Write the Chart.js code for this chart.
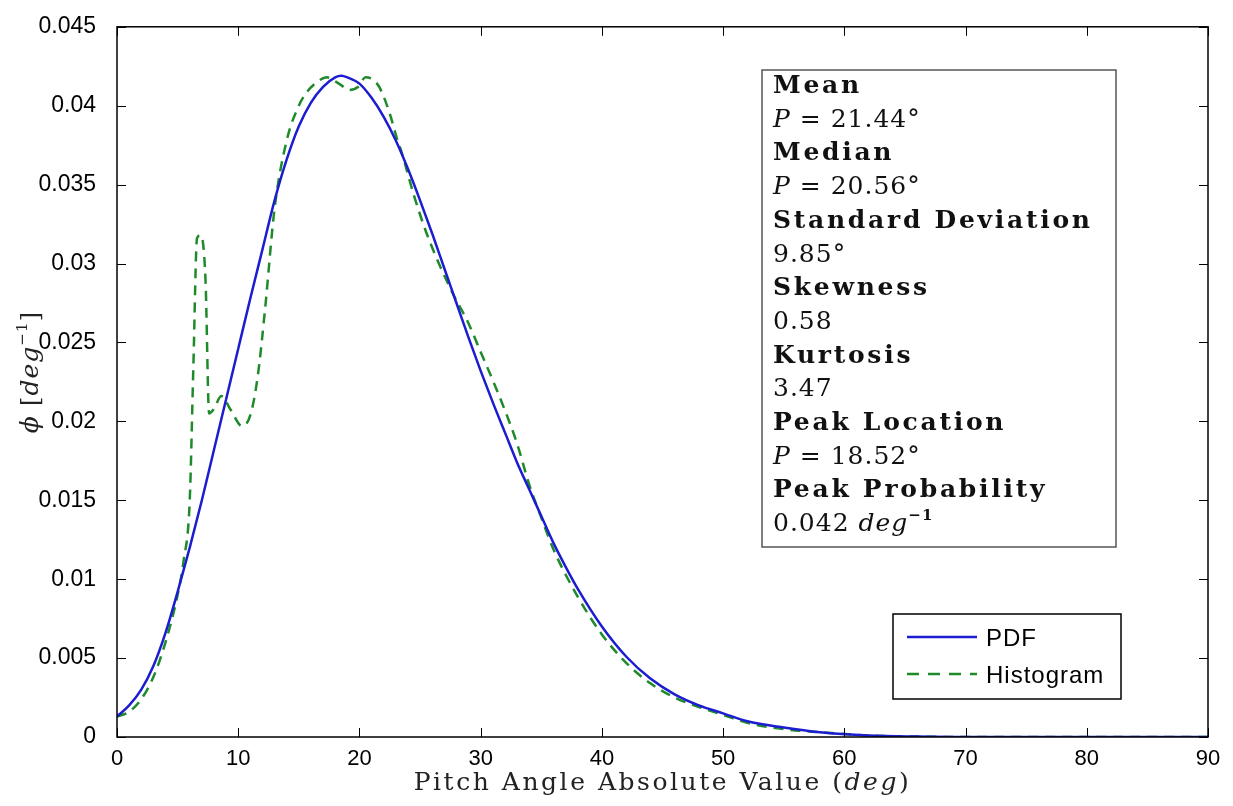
<!DOCTYPE html>
<html>
<head>
<meta charset="utf-8">
<script src="https://cdn.jsdelivr.net/npm/chart.js@4/dist/chart.umd.min.js"></script>
<style>
  html, body { margin: 0; padding: 0; background: #fff; }
  #wrap { width: 1233px; height: 806px; }
</style>
</head>
<body>
<div id="wrap"><canvas id="chart"></canvas></div>
<script>
// fitted PDF curve
const pdfX = [0, 1, 2, 3, 4, 5, 6, 7, 8, 9, 10, 11, 12, 13, 14, 15, 16, 17, 18, 18.5, 19, 20, 21, 22, 23, 24, 25, 26, 27, 28, 29, 30, 31, 32, 33, 34, 35, 36, 37, 38, 40, 42, 44, 46, 48, 50, 52, 55, 58, 62, 66, 70, 80, 90];
const pdfY = [0.0013, 0.0020, 0.0030, 0.0045, 0.0066, 0.0092, 0.0120, 0.0150, 0.0182, 0.0214, 0.0246, 0.0278, 0.0309, 0.0340, 0.0366, 0.0387, 0.0402, 0.0412, 0.0418, 0.0419, 0.0418, 0.0414, 0.0405, 0.0393, 0.0378, 0.0360, 0.0340, 0.0319, 0.0297, 0.0275, 0.0253, 0.0232, 0.0212, 0.0193, 0.0174, 0.0157, 0.0140, 0.0123, 0.0108, 0.0094, 0.0070, 0.0051, 0.0037, 0.0027, 0.0020, 0.0015, 0.0010, 0.0006, 0.0003, 0.0001, 0.00003, 0, 0, 0];

// histogram (smoothed), dashed
const histX = [0, 1, 2, 3, 4, 5, 5.5, 6, 6.3, 6.6, 6.9, 7.3, 7.6, 8, 8.6, 9.4, 10.3, 11, 11.6, 12.2, 13, 14, 15, 15.7, 16.5, 17.3, 18.3, 19.2, 19.9, 20.5, 21.2, 21.7, 22.5, 23.1, 23.5, 24.5, 25.5, 26.5, 27.7, 29, 30, 31, 32, 33, 34, 35, 36, 38, 40, 42, 44, 46, 48, 50, 52, 55, 58, 62, 66, 70, 80, 90];
const histY = [0.0013, 0.0016, 0.0024, 0.0038, 0.0060, 0.0090, 0.0112, 0.0150, 0.0235, 0.0316, 0.0318, 0.0290, 0.0205, 0.0208, 0.0216, 0.0207, 0.0197, 0.0204, 0.0228, 0.0270, 0.0335, 0.0378, 0.0400, 0.0409, 0.0415, 0.0418, 0.0414, 0.0410, 0.0412, 0.0418, 0.0416, 0.0411, 0.0395, 0.0379, 0.0370, 0.0343, 0.0320, 0.0301, 0.0281, 0.0262, 0.0244, 0.0226, 0.0207, 0.0186, 0.0160, 0.0139, 0.0119, 0.0089, 0.0065, 0.0047, 0.0034, 0.0025, 0.0019, 0.0014, 0.0009, 0.0005, 0.0003, 0.0001, 0.00003, 0, 0, 0];

const xTicks = [0, 10, 20, 30, 40, 50, 60, 70, 80, 90];
const yTicks = [0, 0.005, 0.01, 0.015, 0.02, 0.025, 0.03, 0.035, 0.04, 0.045];
const yTickLabels = ["0", "0.005", "0.01", "0.015", "0.02", "0.025", "0.03", "0.035", "0.04", "0.045"];

const seriesNames = ["PDF", "Histogram"];
const pdfColor = "#1c1cd0";
const histColor = "#1f8a2a";

// stats text: [text, style] pieces, b = bold, i = italic, n = normal, s = superscript
const statLines = [
  [["Mean", "b"]],
  [["P", "i"], [" = 21.44°", "n"]],
  [["Median", "b"]],
  [["P", "i"], [" = 20.56°", "n"]],
  [["Standard Deviation", "b"]],
  [["9.85°", "n"]],
  [["Skewness", "b"]],
  [["0.58", "n"]],
  [["Kurtosis", "b"]],
  [["3.47", "n"]],
  [["Peak Location", "b"]],
  [["P", "i"], [" = 18.52°", "n"]],
  [["Peak Probability", "b"]],
  [["0.042 ", "n"], ["deg", "i"], ["−1", "s"]]
];

const serif = "'DejaVu Serif', 'Liberation Serif', serif";
function statFont(style) {
  if (style === "b") return "bold 25px " + serif;
  if (style === "i") return "italic 25px " + serif;
  if (style === "s") return "bold 15px " + serif;
  return "25px " + serif;
}

function drawPieces(ctx, pieces, x, y, fontFn, spacing) {
  pieces.forEach(([t, s]) => {
    ctx.font = fontFn(s);
    ctx.letterSpacing = (typeof spacing === "function" ? spacing(s) : spacing) + "px";
    const dy = s === "s" ? -11 : 0;
    ctx.fillText(t, x, y + dy);
    x += ctx.measureText(t).width;
  });
  ctx.letterSpacing = "0px";
  return x;
}

function piecesWidth(ctx, pieces, fontFn, spacing) {
  let w = 0;
  pieces.forEach(([t, s]) => {
    ctx.font = fontFn(s);
    ctx.letterSpacing = (typeof spacing === "function" ? spacing(s) : spacing) + "px";
    w += ctx.measureText(t).width;
  });
  ctx.letterSpacing = "0px";
  return w;
}

const decorations = {
  id: "decorations",
  afterDatasetsDraw(chart) {
    const ctx = chart.ctx;
    const a = chart.chartArea;
    const xs = chart.scales.x, ys = chart.scales.y;
    ctx.save();

    // axes box and inward ticks on all sides
    ctx.strokeStyle = "#000";
    ctx.lineWidth = 1.5;
    ctx.strokeRect(a.left, a.top, a.right - a.left, a.bottom - a.top);
    ctx.lineWidth = 1;
    ctx.beginPath();
    xTicks.forEach(v => {
      const px = Math.round(xs.getPixelForValue(v)) + 0.5;
      ctx.moveTo(px, a.bottom); ctx.lineTo(px, a.bottom - 9);
      ctx.moveTo(px, a.top); ctx.lineTo(px, a.top + 9);
    });
    yTicks.forEach(v => {
      const py = Math.round(ys.getPixelForValue(v)) + 0.5;
      ctx.moveTo(a.left, py); ctx.lineTo(a.left + 9, py);
      ctx.moveTo(a.right, py); ctx.lineTo(a.right - 9, py);
    });
    ctx.stroke();

    // stats box
    ctx.fillStyle = "#fff";
    ctx.fillRect(762, 70, 354, 477);
    ctx.strokeStyle = "#555";
    ctx.lineWidth = 1.5;
    ctx.strokeRect(762, 70, 354, 477);
    ctx.fillStyle = "#111";
    ctx.textAlign = "left";
    ctx.textBaseline = "alphabetic";
    // spread the bold headings to the reference width, light spacing for the values
    const boldSp = (317 - piecesWidth(ctx, statLines[4], statFont, 0)) / 17;
    const sp = s => (s === "b" ? boldSp : 1);
    statLines.forEach((pieces, i) => {
      drawPieces(ctx, pieces, 773, 93 + i * 33.7, statFont, sp);
    });

    // legend
    ctx.fillStyle = "#fff";
    ctx.fillRect(893, 614, 228, 85);
    ctx.strokeStyle = "#000";
    ctx.lineWidth = 1.5;
    ctx.strokeRect(893, 614, 228, 85);
    ctx.lineWidth = 2.5;
    ctx.strokeStyle = pdfColor;
    ctx.beginPath(); ctx.moveTo(907, 637); ctx.lineTo(977, 637); ctx.stroke();
    ctx.strokeStyle = histColor;
    ctx.setLineDash([12, 9]);
    ctx.beginPath(); ctx.moveTo(907, 674); ctx.lineTo(977, 674); ctx.stroke();
    ctx.setLineDash([]);
    ctx.fillStyle = "#000";
    ctx.font = "24px 'Liberation Sans', Arial, sans-serif";
    ctx.letterSpacing = "1px";
    ctx.fillText(seriesNames[0], 986, 646);
    ctx.fillText(seriesNames[1], 986, 683);
    ctx.letterSpacing = "0px";

    // x axis title
    const titleFont = s => (s === "i" ? "italic " : "") + "25px " + serif;
    const xt = [["Pitch Angle Absolute Value (", "n"], ["deg", "i"], [")", "n"]];
    const xsp = (495 - piecesWidth(ctx, xt, titleFont, 0)) / 31;
    const xw = piecesWidth(ctx, xt, titleFont, xsp);
    ctx.fillStyle = "#222";
    drawPieces(ctx, xt, (a.left + a.right) / 2 - xw / 2, 790, titleFont, xsp);

    // y axis title
    const ytFont = s => (s === "i" ? "italic " : "") + (s === "s" ? "15px " : "25px ") + serif;
    const yt = [["ϕ", "i"], [" [", "n"], ["deg", "i"], ["−1", "s"], ["]", "n"]];
    const yw = piecesWidth(ctx, yt, ytFont, 1);
    ctx.translate(38, 372);
    ctx.rotate(-Math.PI / 2);
    drawPieces(ctx, yt, -yw / 2, 0, ytFont, 1);

    ctx.restore();
  }
};

new Chart(document.getElementById("chart"), {
  type: "line",
  data: {
    datasets: [
      {
        label: seriesNames[0],
        data: pdfX.map((x, i) => ({ x: x, y: pdfY[i] })),
        borderColor: pdfColor,
        borderWidth: 2.5,
        pointRadius: 0,
        cubicInterpolationMode: "monotone",
        fill: false,
        order: 0
      },
      {
        label: seriesNames[1],
        data: histX.map((x, i) => ({ x: x, y: histY[i] })),
        borderColor: histColor,
        borderWidth: 2.5,
        borderDash: [10, 7],
        pointRadius: 0,
        cubicInterpolationMode: "monotone",
        fill: false,
        order: 1
      }
    ]
  },
  options: {
    responsive: true,
    maintainAspectRatio: false,
    animation: false,
    layout: { padding: { top: 20, right: 25, left: 0, bottom: 0 } },
    plugins: { legend: { display: false }, tooltip: { enabled: false } },
    scales: {
      x: {
        type: "linear",
        min: 0,
        max: 90,
        afterBuildTicks: s => { s.ticks = xTicks.map(v => ({ value: v })); },
        afterFit: s => { s.height = 69; },
        grid: { display: false },
        border: { display: false },
        ticks: {
          color: "#000",
          padding: 1,
          maxRotation: 0,
          font: { family: "'Liberation Sans Narrow', 'Arial Narrow', 'Liberation Sans', sans-serif", size: 22 }
        }
      },
      y: {
        type: "linear",
        min: 0,
        max: 0.045,
        afterBuildTicks: s => { s.ticks = yTicks.map(v => ({ value: v })); },
        afterFit: s => { s.width = 117; },
        grid: { display: false },
        border: { display: false },
        ticks: {
          color: "#000",
          padding: 13,
          callback: (v, i) => yTickLabels[i],
          font: { family: "'Liberation Sans', Arial, sans-serif", size: 23 }
        }
      }
    }
  },
  plugins: [decorations]
});
</script>
</body>
</html>
